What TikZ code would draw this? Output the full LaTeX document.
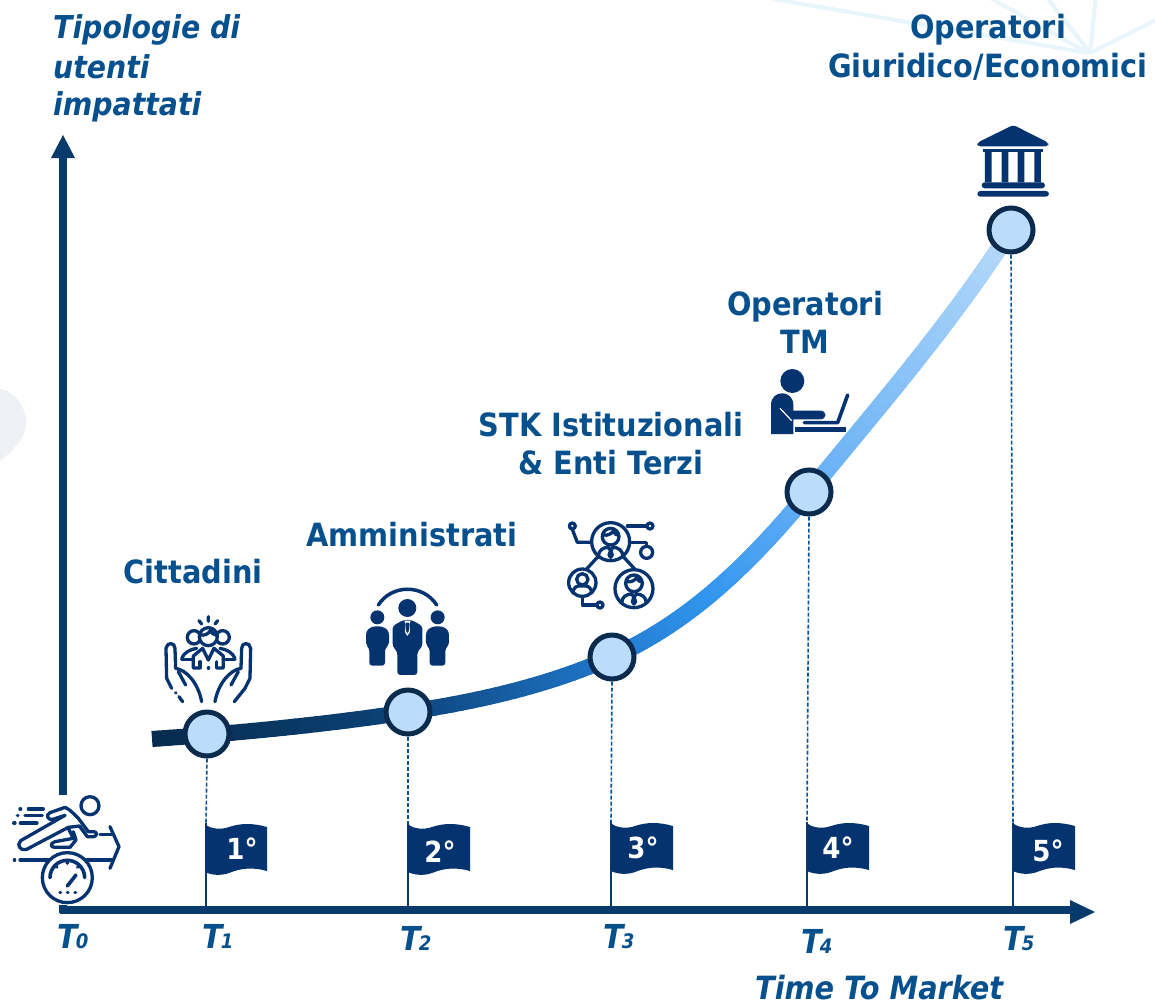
\documentclass[tikz,border=0pt]{standalone}
\usepackage{fontspec}
\setmainfont{DejaVu Sans Condensed}
\definecolor{txtblue}{HTML}{07508E}
\definecolor{axisblue}{HTML}{063B6C}
\definecolor{iconblue}{HTML}{04336F}
\definecolor{ringdark}{HTML}{0A2B4E}
\definecolor{nodefill}{HTML}{BBDCFA}
\definecolor{dashblue}{HTML}{0F5596}
\definecolor{wmgrey}{HTML}{EDF0F5}
\definecolor{wmray}{HTML}{E8F5FA}
\definecolor{ca}{HTML}{062B4E}
\definecolor{cb}{HTML}{0C4378}
\definecolor{cc}{HTML}{2078CC}
\definecolor{cm}{HTML}{3296EE}
\definecolor{cd}{HTML}{62AEF5}
\definecolor{ce}{HTML}{B5D9FA}
\tikzset{
  x=1pt,y=-1pt,
  title/.style={font=\bfseries\fontsize{32}{32}\selectfont,text=txtblue,anchor=base,inner sep=0pt},
  ititle/.style={font=\bfseries\itshape\fontsize{31.5}{32}\selectfont,text=txtblue,anchor=base west,inner sep=0pt},
  tlabel/.style={font=\bfseries\itshape\fontsize{33}{33}\selectfont,text=txtblue,anchor=base west,inner sep=0pt},
  flagtext/.style={font=\bfseries\fontsize{29}{29}\selectfont,text=white,inner sep=0pt},
  milestone/.style={circle,draw=ringdark,fill=nodefill,line width=5pt,minimum size=44pt,inner sep=0pt},
  dashconn/.style={draw=dashblue,line width=1.6pt,dash pattern=on 4pt off 2pt},
  poleconn/.style={draw=axisblue,line width=2.2pt},
  axisline/.style={draw=axisblue,line width=8pt},
  axishead/.style={fill=axisblue,draw=none},
  zoomed/.style={x=0.3333pt,y=-0.3333pt},
  outl/.style={draw=iconblue,line width=3.3pt,line cap=round,line join=round,fill=none},
  outlw/.style={draw=iconblue,line width=3.3pt,line cap=round,line join=round,fill=white},
  solid icon/.style={fill=iconblue,draw=none,rounded corners=3pt},
  ray/.style={draw=wmray,line width=4pt}
}
\newcommand{\tsub}[1]{T\kern-1.5pt{\fontsize{20}{20}\selectfont #1}}
% flag drawn with its top-left corner at #1,#2
\newcommand{\flagshape}[2]{%
  \fill[iconblue,shift={(#1,#2)}] (0,0) .. controls (5,5) and (16,6) .. (24,3)
    .. controls (36,-1) and (48,-1) .. (62,3) -- (62,47)
    .. controls (48,43) and (36,44) .. (24,49)
    .. controls (16,52) and (6,51) .. (0,48) -- cycle;}
% gradient bezier between named coordinates: p0,c1,c2,p3, colour start, colour end
\newcommand{\gradbez}[6]{%
  \foreach \k in {1,...,24}{%
    \pgfmathsetmacro{\ta}{(\k-1)/24}%
    \pgfmathsetmacro{\tb}{\k/24}%
    \pgfmathsetmacro{\mixv}{100*(1-(\k-0.5)/24)}%
    \begin{pgfscope}%
    \colorlet{segcol}{#5!\mixv!#6}%
    \pgfsetstrokecolor{segcol}%
    \pgfsetlinewidth{\curvew}%
    \pgfsetroundcap
    \pgfpathmoveto{\pgfpointcurveattime{\ta}{\pgfpointanchor{#1}{center}}{\pgfpointanchor{#2}{center}}{\pgfpointanchor{#3}{center}}{\pgfpointanchor{#4}{center}}}%
    \pgfpathlineto{\pgfpointcurveattime{\tb}{\pgfpointanchor{#1}{center}}{\pgfpointanchor{#2}{center}}{\pgfpointanchor{#3}{center}}{\pgfpointanchor{#4}{center}}}%
    \pgfusepath{stroke}%
    \end{pgfscope}%
  }}
\begin{document}
\begin{tikzpicture}
\useasboundingbox (0,0) rectangle (1155,1007);
\fill[white] (0,0) rectangle (1155,1007);
% faint watermark
\fill[wmgrey] (0,389) .. controls (16,392) and (26,408) .. (26,422) .. controls (26,436) and (16,448) .. (0,461) -- cycle;
\begin{scope}
\clip (0,0) rectangle (1155,100);
\draw[ray] (773,-1) -- (1088,53);
\draw[ray] (985,-5) -- (1088,53);
\draw[ray] (1045,-5) -- (1090,53);
\draw[ray] (1096,-5) -- (1090,53);
\draw[ray] (1160,18) -- (1090,53);
\end{scope}

% axes
\coordinate (xstart) at (60,910);
\coordinate (xend) at (1072,910);
\coordinate (ybot) at (63,795);
\coordinate (ytop) at (63,158);
\coordinate (ystub) at (63,905);
\draw[axisline] (xstart) -- (xend);
\draw[axisline] (ybot) -- (ytop);
\draw[axisline] (ystub) -- (63,913);
\fill[axishead] (1070,900) -- (1095,912) -- (1070,924) -- cycle;
\fill[axishead] (51,158) -- (63,135) -- (75,158) -- cycle;

% growth curve
\coordinate (p0) at (160,738.4);
\coordinate (p1) at (240,733);
\coordinate (p2) at (330,724);
\coordinate (p3) at (408,712);
\coordinate (p4) at (480,701);
\coordinate (p5) at (550,685);
\coordinate (p6) at (612,657);
\coordinate (p7a) at (648.5,640.5);
\coordinate (p7b) at (681.75,618.75);
\coordinate (pm) at (713.9,591.4);
\coordinate (p8a) at (746,564);
\coordinate (p8b) at (777,531);
\coordinate (p9) at (809,492);
\coordinate (p10) at (880,405);
\coordinate (p11) at (950,325);
\coordinate (p12) at (1011,230);
\draw[ca,line width=16pt] (152,739) -- (p0);
\def\curvew{16pt}
\gradbez{p0}{p1}{p2}{p3}{ca}{cb}
\gradbez{p3}{p4}{p5}{p6}{cb}{cc}
\def\curvew{17pt}
\gradbez{p6}{p7a}{p7b}{pm}{cc}{cm}
\gradbez{pm}{p8a}{p8b}{p9}{cm}{cd}
\gradbez{p9}{p10}{p11}{p12}{cd}{ce}

% milestones
\node[milestone] (m1) at (207,734) {};
\node[milestone] (m2) at (408,712) {};
\node[milestone] (m3) at (612,657) {};
\node[milestone] (m4) at (809,492) {};
\node[milestone] (m5) at (1011,230) {};

% flags
\coordinate (f1) at (206,823); \coordinate (b1) at (206,908);
\coordinate (f2) at (408,823); \coordinate (b2) at (408,908);
\coordinate (f3) at (611,822); \coordinate (b3) at (611,908);
\coordinate (f4) at (807,822); \coordinate (b4) at (807,908);
\coordinate (f5) at (1013,823); \coordinate (b5) at (1013,908);
\draw[dashconn] (m1.south) -- (f1);
\draw[dashconn] (m2.south) -- (f2);
\draw[dashconn] (m3.south) -- (f3);
\draw[dashconn] (m4.south) -- (f4);
\draw[dashconn] (m5.south) -- (f5);
\draw[poleconn] (f1) -- (b1);
\draw[poleconn] (f2) -- (b2);
\draw[poleconn] (f3) -- (b3);
\draw[poleconn] (f4) -- (b4);
\draw[poleconn] (f5) -- (b5);
\flagshape{205}{824}
\flagshape{408}{824}
\flagshape{611}{823}
\flagshape{807}{823}
\flagshape{1013}{823}
\node[flagtext] (n1) at (242,849) {1°};
\node[flagtext] (n2) at (440,852) {2°};
\node[flagtext] (n3) at (643,848) {3°};
\node[flagtext] (n4) at (838,848) {4°};
\node[flagtext] (n5) at (1048,851) {5°};

% texts
\node[ititle] (ya) at (53,38) {Tipologie di};
\node[ititle] (yb) at (53,78) {utenti};
\node[ititle] (yc) at (53,115) {impattati};
\node[title] (l1) at (193,583) {Cittadini};
\node[title] (l2) at (412,546) {Amministrati};
\node[title] (l3a) at (611,436) {STK Istituzionali};
\node[title] (l3b) at (611,474) {\& Enti Terzi};
\node[title] (l4a) at (805,315) {Operatori};
\node[title] (l4b) at (805,353) {TM};
\node[title] (l5a) at (988,38) {Operatori};
\node[title] (l5b) at (988,77) {Giuridico/Economici};
\node[ititle,font=\bfseries\itshape\fontsize{32}{32}\selectfont] (xl) at (755,999) {Time To Market};
\node[tlabel] (t0) at (57,948) {\tsub{0}};
\node[tlabel] (t1) at (202,948) {\tsub{1}};
\node[tlabel] (t2) at (400,950) {\tsub{2}};
\node[tlabel] (t3) at (603,948) {\tsub{3}};
\node[tlabel] (t4) at (801,953) {\tsub{4}};
\node[tlabel] (t5) at (1003,950) {\tsub{5}};

% runner icon
\begin{scope}[shift={(10,790)},zoomed]
\draw[outl] (240,47) circle (27);
\draw[outl] (30,57) -- (32,57) (55,57) -- (100,57) (22,77) -- (24,77) (45,77) -- (97,77);
\draw[outl,line width=4pt] (12,99) -- (14,99) (32,99) -- (80,99);
\draw[outl] (165,52) -- (120,68) .. controls (105,75) and (115,92) .. (128,88) -- (165,76);
\draw[outl] (165,52) .. controls (180,60) .. (205,85) -- (235,125) -- (252,125) .. controls (262,125) and (262,140) .. (250,140) -- (232,140) -- (208,108) -- (175,112) -- (50,178) .. controls (32,185) and (18,165) .. (32,152) -- (165,76);
\draw[outl] (175,115) -- (190,145) -- (135,155) .. controls (120,160) and (120,172) .. (135,172) -- (180,172) -- (198,150) -- (190,125);
\draw[outl] (13,210) -- (14,210) (30,210) -- (305,210);
\draw[outl] (270,133) -- (305,133);
\draw[outl] (300,110) -- (327,170) -- (300,235);
\end{scope}
\begin{scope}[shift={(0,580)},zoomed]
\draw[outlw] (202,893) circle (75);
\draw[outl,line width=3.6pt] (150,893) arc (180:360:52);
\draw[outl] (202,841) -- (202,850) (165,856) -- (171,862) (239,856) -- (233,862);
\draw[outl,line width=3.6pt] (202,918) -- (228,885);
\draw[outl] (180,938) -- (182,938) (202,938) -- (204,938) (225,938) -- (227,938);
\end{scope}

% cittadini icon
\begin{scope}[shift={(0,580)},zoomed]
\draw[outl] (625,110) -- (625,124) (597,122) -- (605,132) (653,122) -- (645,132);
\draw[outl] (582,172) circle (20) (668,172) circle (20);
\draw[outlw] (625,170) circle (27);
\draw[outl] (600,165) .. controls (615,168) and (628,160) .. (632,150) .. controls (635,160) and (642,165) .. (650,166);
\draw[outl] (545,235) .. controls (552,218) and (570,208) .. (590,205) (705,235) .. controls (698,218) and (680,208) .. (660,205);
\draw[outl] (545,238) -- (580,238) (670,238) -- (705,238);
\draw[outl] (580,264) -- (580,228) -- (608,205) -- (625,240) -- (642,205) -- (670,228) -- (670,264) -- (652,264) (598,264) -- (580,264);
\draw[outl] (625,264) -- (626,264) (600,245) -- (600,264) (650,245) -- (650,264);
\draw[outl] (515,325) -- (500,295) -- (498,205) .. controls (500,186) and (525,186) .. (525,205) -- (527,265) .. controls (560,270) and (595,310) .. (605,365);
\draw[outl] (535,275) -- (557,315);
\draw[outl] (527,338) -- (528,339) (537,350) -- (548,365);
\draw[outl] (735,325) -- (750,295) -- (752,205) .. controls (750,186) and (725,186) .. (725,205) -- (723,265) .. controls (690,270) and (655,310) .. (645,365);
\draw[outl] (715,275) -- (693,315);
\draw[outl] (735,325) -- (703,365);
\end{scope}

% amministrati icon
\begin{scope}[shift={(340,500)},zoomed]
\draw[iconblue,line width=3.5pt,line cap=round] (115,315) .. controls (155,252) and (250,252) .. (290,315);
\fill[iconblue] (202,324) circle (27) (112,352) circle (21) (293,352) circle (21);
\fill[solid icon] (158,440) -- (158,378) -- (190,360) -- (215,360) -- (247,378) -- (247,440) -- (232,455) -- (232,525) -- (172,525) -- (172,455) -- cycle;
\fill[solid icon] (78,435) -- (78,395) -- (90,382) -- (112,378) -- (134,382) -- (147,395) -- (147,435) -- (135,445) -- (135,497) -- (88,497) -- (88,445) -- cycle;
\fill[solid icon] (258,435) -- (258,395) -- (271,382) -- (293,378) -- (315,382) -- (327,395) -- (327,435) -- (316,445) -- (316,497) -- (269,497) -- (269,445) -- cycle;
\fill[white] (193,362) -- (212,362) -- (208,372) -- (210,396) -- (202,408) -- (195,396) -- (197,372) -- cycle;
\fill[iconblue] (198,368) -- (207,368) -- (207,392) -- (202,400) -- (198,392) -- cycle;
\end{scope}

% STK icon
\begin{scope}[shift={(340,500)},zoomed]
\draw[outl] (812,125) circle (57) (727,248) circle (41) (882,266) circle (57) (920,157) circle (18);
\draw[outl] (697,78) circle (9) (930,78) circle (9) (780,315) circle (9);
\draw[outl] (697,88) -- (712,127) -- (755,127);
\draw[outl] (862,78) -- (920,78);
\draw[outl] (870,127) -- (920,127) -- (920,139);
\draw[outl] (772,172) -- (740,207);
\draw[outl] (850,170) -- (885,208);
\draw[outl] (727,289) -- (727,315) -- (770,315);
\draw[outl] (812,110) circle (25);
\draw[outl] (790,105) .. controls (805,108) and (815,100) .. (820,93) .. controls (822,102) and (830,105) .. (836,106);
\draw[outl] (775,172) .. controls (775,150) and (790,142) .. (805,142) (849,172) .. controls (849,150) and (834,142) .. (819,142);
\draw[outl] (805,142) -- (812,152) -- (819,142) (807,165) -- (812,172) -- (817,165) -- (812,152) -- cycle;
\draw[outl] (727,238) circle (17);
\draw[outl] (699,279) .. controls (699,262) and (712,255) .. (727,258) .. controls (742,255) and (755,262) .. (755,279);
\draw[outl] (882,250) circle (25);
\draw[outl] (860,245) .. controls (875,248) and (885,240) .. (890,233) .. controls (892,242) and (900,245) .. (906,246);
\draw[outl] (845,310) .. controls (845,290) and (860,282) .. (875,282) (919,310) .. controls (919,290) and (904,282) .. (889,282);
\draw[outl] (875,282) -- (882,292) -- (889,282) (877,305) -- (882,312) -- (887,305) -- (882,292) -- cycle;
\end{scope}

% operator at laptop icon
\begin{scope}[shift={(740,350)},zoomed]
\fill[iconblue] (157,93) circle (36);
\fill[iconblue] (93,252) -- (93,165) .. controls (93,118) and (160,118) .. (160,165) -- (160,182) -- (240,182) .. controls (262,182) and (262,208) .. (240,208) -- (160,208) -- (160,252) -- cycle;
\draw[white,line width=1.2pt] (120,175) -- (155,212);
\draw[iconblue,line width=3.6pt,line cap=round,line join=round] (193,218) -- (293,218) -- (323,135);
\fill[iconblue] (165,230) rectangle (317,247);
\end{scope}

% bank icon
\begin{scope}[shift={(740,0)},zoomed]
\fill[solid icon] (820,375) -- (925,428) -- (925,439) -- (712,439) -- (712,428) -- cycle;
\fill[iconblue] (730,448) rectangle (910,456);
\fill[iconblue] (735,456) rectangle (755,547) (785,456) rectangle (805,547) (833,456) rectangle (853,547) (883,456) rectangle (903,547);
\fill[solid icon] (725,547) rectangle (915,565);
\fill[solid icon] (712,573) rectangle (927,590);
\end{scope}
\end{tikzpicture}
\end{document}
